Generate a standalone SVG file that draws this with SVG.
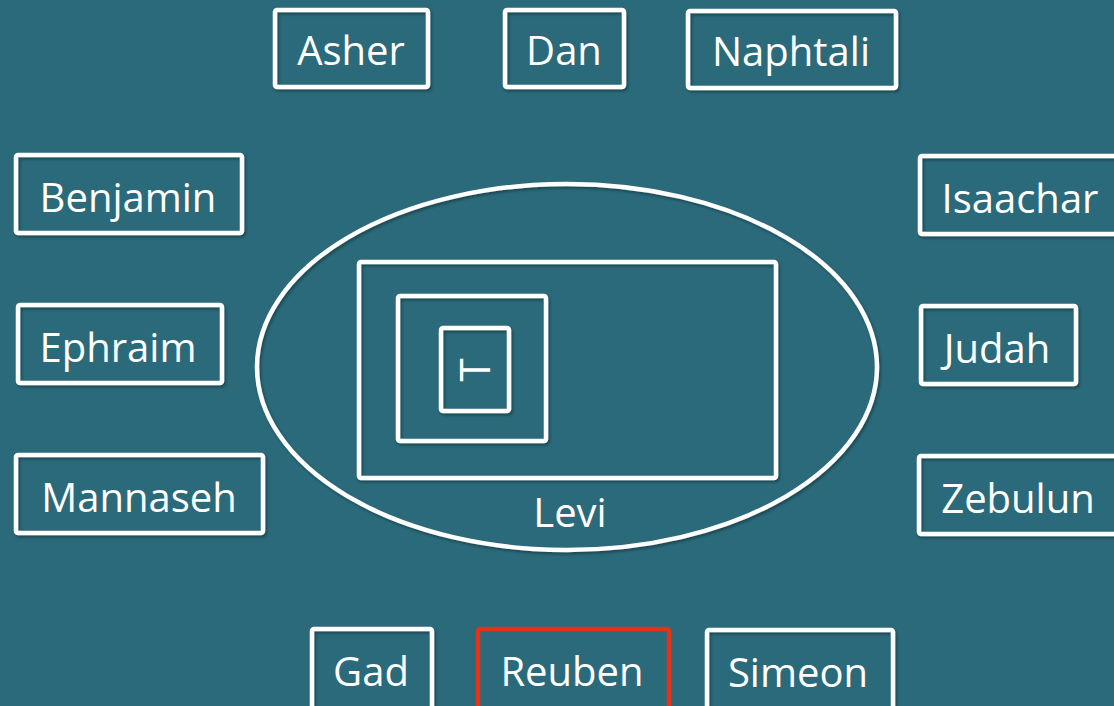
<svg xmlns="http://www.w3.org/2000/svg" width="1114" height="706" viewBox="0 0 1114 706">
<defs>
<filter id="sh" x="-10%" y="-10%" width="120%" height="120%">
<feDropShadow dx="1.5" dy="2" stdDeviation="1.5" flood-color="#000" flood-opacity="0.35"/>
</filter>
</defs>
<style>
.box{fill:none;stroke:#fff;stroke-width:4.5;filter:url(#sh)}
.red{fill:none;stroke:#e4321b;stroke-width:4.5}
.lbl{font-family:"Open Sans","Noto Sans","Liberation Sans",sans-serif;font-size:40px;fill:#fff;text-anchor:middle}
.t{font-family:"Open Sans","Noto Sans","Liberation Sans",sans-serif;font-size:42px;fill:#fff;text-anchor:middle}
</style>
<rect width="1114" height="706" fill="#2a6a7a"/>
<g id="connectors"></g>
<g id="levi">
<ellipse class="box" cx="567" cy="367" rx="310" ry="183"/>
<rect class="box" x="359" y="262" width="417" height="216" rx="2"/>
<rect class="box" x="398" y="296" width="148" height="145" rx="2"/>
<rect class="box" x="441" y="328" width="68" height="83" rx="2"/>
<text class="t" transform="translate(476,370) rotate(-90)" x="0" y="14">T</text>
<text class="lbl" x="570" y="527">Levi</text>
</g>
<g id="asher"><rect class="box" x="275" y="10" width="153" height="77" rx="2"/><text class="lbl" x="351" y="65">Asher</text></g>
<g id="dan"><rect class="box" x="505" y="10" width="119" height="77" rx="2"/><text class="lbl" x="564" y="65">Dan</text></g>
<g id="naphtali"><rect class="box" x="688" y="11" width="208" height="77" rx="2"/><text class="lbl" x="791" y="66">Naphtali</text></g>
<g id="benjamin"><rect class="box" x="16" y="155" width="226" height="78" rx="2"/><text class="lbl" x="128" y="212">Benjamin</text></g>
<g id="ephraim"><rect class="box" x="18" y="305" width="204" height="78" rx="2"/><text class="lbl" x="118" y="362">Ephraim</text></g>
<g id="mannaseh"><rect class="box" x="16" y="455" width="247" height="78" rx="2"/><text class="lbl" x="139" y="512">Mannaseh</text></g>
<g id="isaachar"><rect class="box" x="920" y="156" width="210" height="78" rx="2"/><text class="lbl" x="1020" y="213">Isaachar</text></g>
<g id="judah"><rect class="box" x="921" y="306" width="155" height="78" rx="2"/><text class="lbl" x="997" y="363">Judah</text></g>
<g id="zebulun"><rect class="box" x="919" y="456" width="210" height="78" rx="2"/><text class="lbl" x="1018" y="513">Zebulun</text></g>
<g id="gad"><rect class="box" x="312" y="629" width="120" height="90" rx="2"/><text class="lbl" x="371" y="686">Gad</text></g>
<g id="reuben"><rect class="red" x="478" y="629" width="191" height="90" rx="2"/><text class="lbl" x="572" y="686">Reuben</text></g>
<g id="simeon"><rect class="box" x="707" y="630" width="186" height="90" rx="2"/><text class="lbl" x="798" y="687">Simeon</text></g>
</svg>
